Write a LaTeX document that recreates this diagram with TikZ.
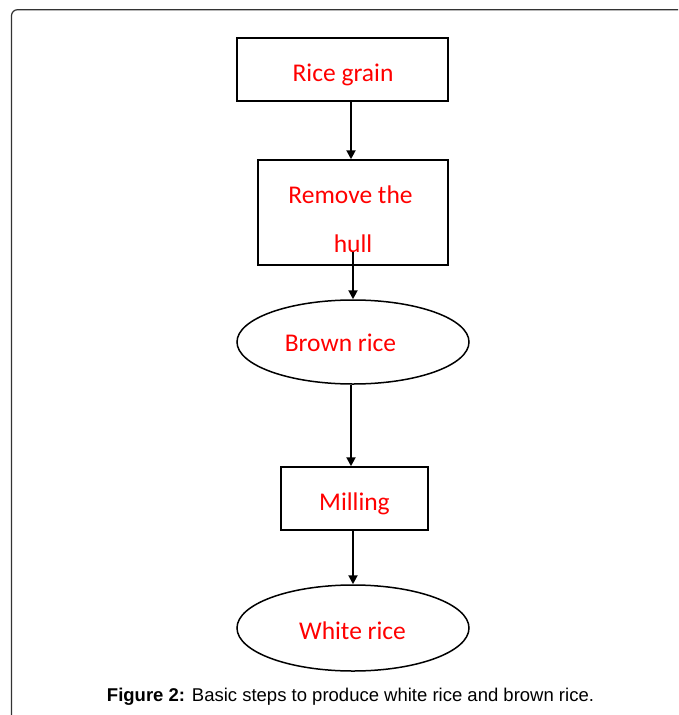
\documentclass[tikz,border=0pt]{standalone}
\usepackage{fontspec}
\setmainfont{Carlito}
\newfontfamily\captionfont{Liberation Sans}
\usetikzlibrary{arrows.meta,shapes.geometric}

\begin{document}
\begin{tikzpicture}[x=1pt,y=-1pt]
        \tikzset{stepbox/.style={draw,line width=1.5pt,rectangle,inner sep=0pt},
                 stepoval/.style={draw,line width=1.5pt,ellipse,inner sep=0pt},
                 steptext/.style={anchor=base,inner sep=0pt,text=red,
                                  font=\fontsize{25.5}{30}\selectfont},
                 flow/.style={line width=2pt,-{Triangle[length=9pt,width=9pt]}}}
        \useasboundingbox (0,0) rectangle (678,715);

        % frame
        \draw[line width=1.2pt,black!80,rounded corners=6pt] (11.5,715)
              -- (11.5,9.7)
              -- (678,9.7);

        \node[stepbox,minimum width=211,minimum height=63] (rice) at (342.5,69.5) {};
        \node[steptext] (ricetxt) at (343,81) {Rice grain};

        \node[stepbox,minimum width=190,minimum height=105] (hull) at (353,212.5) {};
        \node[steptext] (removetxt) at (350.5,203) {Remove the};
        \node[steptext] (hulltxt) at (353,252) {hull};

        \node[stepoval,minimum width=232,minimum height=84] (brown) at (353,342) {};
        \node[steptext] (browntxt) at (340.5,351) {Brown rice};

        \node[stepbox,minimum width=147,minimum height=63] (milling) at (354.5,498.5) {};
        \node[steptext] (millingtxt) at (354.5,510) {Milling};

        \node[stepoval,minimum width=232,minimum height=86] (white) at (353,628) {};
        \node[steptext] (whitetxt) at (352.5,639) {White rice};

        \draw[flow] ([xshift=8.5pt]rice.south)
                    -- ([xshift=8.5pt]rice.south |- hull.north);
        \draw[flow] (hulltxt.south)
                    -- (hulltxt.south |- brown.north);
        \draw[flow] ([xshift=-2pt]brown.south)
                    -- ([xshift=-2pt]brown.south |- milling.north);
        \draw[flow] ([xshift=-1.5pt]milling.south)
                    -- ([xshift=-1.5pt]milling.south |- white.north);

        \node[anchor=base,inner sep=0pt] (caption) at (350.5,701.5)
              {\captionfont\fontsize{18.5}{22}\selectfont
               \textbf{Figure 2:} Basic steps to produce white rice and brown rice.};
      \end{tikzpicture}
\end{document}
